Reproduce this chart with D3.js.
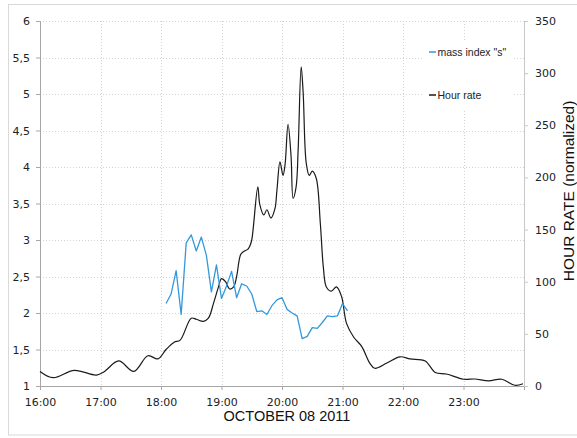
<!DOCTYPE html>
<html>
<head>
<meta charset="utf-8">
<script src="https://cdn.jsdelivr.net/npm/d3@7"></script>
<style>
  html, body { margin: 0; padding: 0; background: #fff; }
  svg { display: block; }
</style>
</head>
<body>
<svg id="chart" width="577" height="438"></svg>
<script>
// ---- Data ----
const massTimes = ["18:05","18:10","18:15","18:20","18:25","18:30","18:35","18:40","18:45","18:50",
  "18:55","19:00","19:05","19:10","19:15","19:20","19:25","19:30","19:35","19:40",
  "19:45","19:50","19:55","20:00","20:05","20:10","20:15","20:20","20:25","20:30",
  "20:35","20:40","20:45","20:50","20:55","21:00","21:05"];
const massIndex = [2.13,2.26,2.58,1.98,2.96,3.07,2.85,3.04,2.79,2.29,
  2.66,2.20,2.37,2.57,2.21,2.40,2.37,2.26,2.02,2.03,
  1.98,2.10,2.18,2.21,2.05,2.00,1.96,1.65,1.68,1.80,
  1.79,1.87,1.96,1.95,1.96,2.13,2.03];

const rateTimes = ["16:00","16:13","16:34","16:56","17:04","17:18","17:33","17:47","17:57","18:05",
  "18:13","18:19","18:30","18:35","18:42","18:47","18:52","18:57","19:00","19:04",
  "19:08","19:12","19:15","19:19","19:22","19:26","19:28","19:30","19:36","19:38",
  "19:42","19:45","19:49","19:53","19:55","19:58","20:01","20:03","20:06","20:09",
  "20:11","20:14","20:16","20:19","20:21","20:24","20:27","20:30","20:34","20:38",
  "20:41","20:44","20:49","20:54","20:59","21:04","21:11","21:19","21:27","21:32",
  "21:44","21:57","22:07","22:22","22:32","22:43","23:00","23:11","23:25","23:38",
  "23:51","23:59"];
const hourRate = [14,8,15,10.5,14,24,14,29,26,35,
  42,44,65,64,62,65,79,95,103,100,
  93,95,105,126,129,131,134,140,191,174,
  164,169,161,170,188,215,202,212,251,220,
  180,191,226,306,281,214,202,206,199,156,
  114,95,91,95,86,60,47,38,22,17,
  22,28,26,24,13,11.5,6.5,6.7,5,6.5,
  0.7,2.2];

const xTickLabels = ["16:00","17:00","18:00","19:00","20:00","21:00","22:00","23:00"];
const leftTicks = [1,1.5,2,2.5,3,3.5,4,4.5,5,5.5,6];
const rightTicks = [0,50,100,150,200,250,300,350];
const seriesNames = ['mass index "s"', "Hour rate"];
const seriesColors = ["#3399db", "#1a1a1a"];

// ---- Setup ----
const parse = d3.timeParse("%Y-%m-%d %H:%M");
const day = "2011-10-08";
const toDate = t => parse(day + " " + t);

const svg = d3.select("#chart");
const W = 577, H = 438;
const m = { left: 40, right: 524, top: 21, bottom: 386 };

const x = d3.scaleTime()
  .domain([toDate("16:00"), parse("2011-10-09 00:00")])
  .range([m.left, m.right]);
const yL = d3.scaleLinear().domain([1, 6]).range([m.bottom, m.top]);
const yR = d3.scaleLinear().domain([0, 350]).range([m.bottom, m.top]);

const font = "'DejaVu Sans', Verdana, sans-serif";

// outer border
svg.append("rect")
  .attr("x", 8.5).attr("y", 4.5).attr("width", W + 10).attr("height", 430.5)
  .attr("fill", "#fff").attr("stroke", "#d9d9d9").attr("stroke-width", 1);

// gridlines
const grid = svg.append("g");
grid.selectAll("line.h").data(leftTicks.slice(1)).join("line")
  .attr("x1", m.left).attr("x2", m.right)
  .attr("y1", d => Math.round(yL(d)) + 0.5).attr("y2", d => Math.round(yL(d)) + 0.5)
  .attr("stroke", "#d4d4d4").attr("stroke-dasharray", "1,2");
grid.selectAll("line.v").data(xTickLabels.slice(1)).join("line")
  .attr("x1", d => Math.round(x(toDate(d))) + 0.5).attr("x2", d => Math.round(x(toDate(d))) + 0.5)
  .attr("y1", m.top).attr("y2", m.bottom)
  .attr("stroke", "#d4d4d4").attr("stroke-dasharray", "1,2");

// legend background (covers gridlines)
const legend = svg.append("g");
legend.append("rect").attr("x", 423).attr("y", 40).attr("width", 90).attr("height", 70).attr("fill", "#fff");

// axes
const xAxis = d3.axisBottom(x)
  .tickValues(xTickLabels.map(toDate))
  .tickFormat(d3.timeFormat("%H:%M"))
  .tickSize(4).tickPadding(8);
const gx = svg.append("g").attr("transform", `translate(0,${m.bottom})`).call(xAxis);

const yAxisL = d3.axisLeft(yL).tickValues(leftTicks)
  .tickFormat(d => String(d).replace(".", ","))
  .tickSize(4).tickPadding(6);
const gyl = svg.append("g").attr("transform", `translate(${m.left},0)`).call(yAxisL);

const yAxisR = d3.axisRight(yR).tickValues(rightTicks)
  .tickSize(4).tickPadding(7);
const gyr = svg.append("g").attr("transform", `translate(${m.right},0)`).call(yAxisR);

[gx, gyl, gyr].forEach(g => {
  g.select(".domain").attr("stroke", "#a6a6a6");
  g.selectAll(".tick line").attr("stroke", "#a6a6a6");
  g.selectAll(".tick text").attr("fill", "#222").style("font-family", font).style("font-size", "11px");
});
gyr.select(".domain").attr("stroke", "#c8c8c8");
gyr.selectAll(".tick line").attr("stroke", "#c8c8c8");

// lines
const rateData = rateTimes.map((t, i) => ({ t: toDate(t), v: hourRate[i] }));
const massData = massTimes.map((t, i) => ({ t: toDate(t), v: massIndex[i] }));

svg.append("path").datum(rateData)
  .attr("fill", "none").attr("stroke", seriesColors[1]).attr("stroke-width", 1.2)
  .attr("d", d3.line().x(d => x(d.t)).y(d => yR(d.v)).curve(d3.curveCatmullRom.alpha(0.5)));

svg.append("path").datum(massData)
  .attr("fill", "none").attr("stroke", seriesColors[0]).attr("stroke-width", 1.3)
  .attr("stroke-linejoin", "round")
  .attr("d", d3.line().x(d => x(d.t)).y(d => yL(d.v)));

// legend entries
const legY = [52, 95];
seriesNames.forEach((name, i) => {
  legend.append("line").attr("x1", 429).attr("x2", 436)
    .attr("y1", legY[i]).attr("y2", legY[i])
    .attr("stroke", seriesColors[i]).attr("stroke-width", 1.5);
  legend.append("text").attr("x", 437.5).attr("y", legY[i] + 3.5)
    .attr("fill", "#222").style("font-family", "'Liberation Sans', Arial, sans-serif")
    .style("font-size", "10.5px").text(name);
});

// axis titles
svg.append("text").attr("x", 287).attr("y", 421).attr("text-anchor", "middle")
  .attr("fill", "#111").style("font-family", "'Liberation Sans', Arial, sans-serif")
  .style("font-size", "14.5px").text("OCTOBER 08 2011");

svg.append("text").attr("transform", "translate(574,191) rotate(-90)")
  .attr("text-anchor", "middle")
  .attr("fill", "#111").style("font-family", "'Liberation Sans', Arial, sans-serif")
  .style("font-size", "15.5px").text("HOUR RATE (normalized)");
</script>
</body>
</html>
